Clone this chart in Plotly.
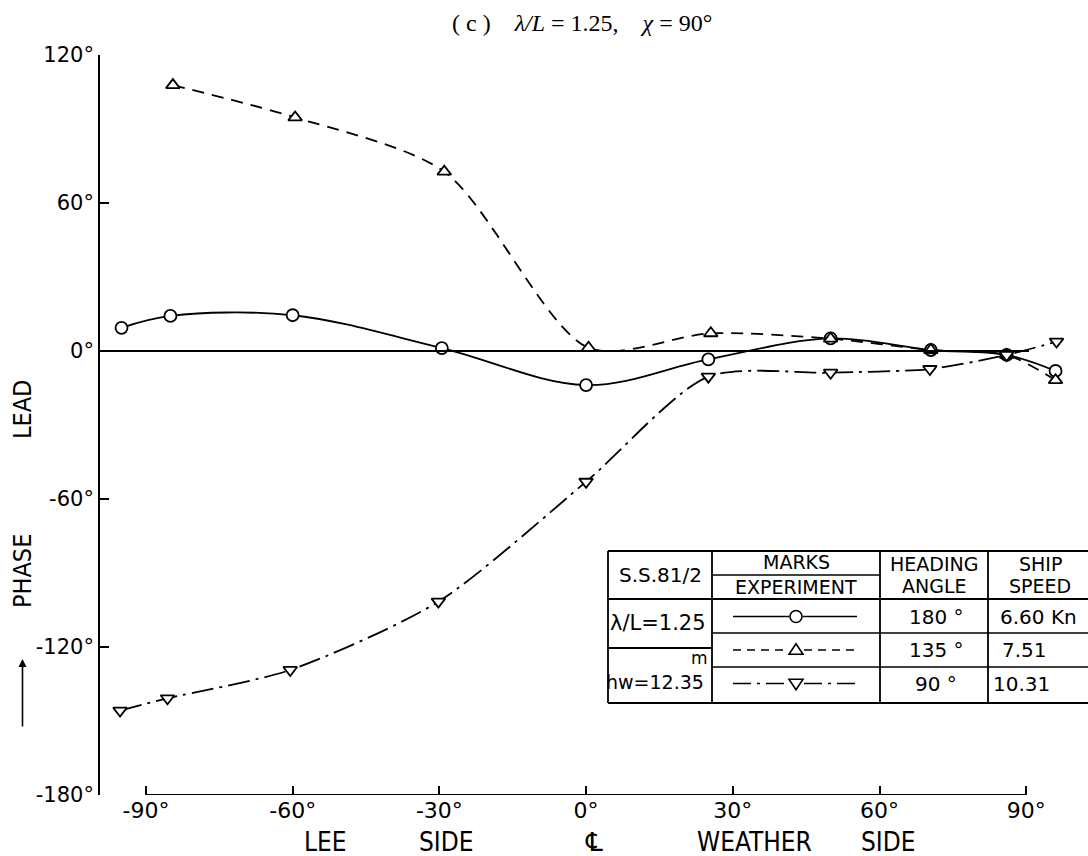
import plotly.graph_objects as go

# ---------------- data ----------------
angle_180 = [-95, -85, -60, -29.5, 0, 25, 50, 70.5, 86, 96]
phase_180 = [9.4, 14.2, 14.5, 1.2, -13.8, -3.4, 5.1, 0.4, -1.6, -8.1]

angle_135 = [-84.5, -59.5, -29, 0.5, 25.5, 50, 70.5, 86, 96]
phase_135 = [107.8, 94.7, 72.7, 1.3, 7.2, 5.0, 0.4, -1.6, -11.8]

angle_90 = [-95.3, -85.6, -60.5, -30.2, 0, 25, 50, 70.3, 86, 96.2]
phase_90 = [-145.8, -140.8, -129.3, -101.6, -53, -10.4, -8.8, -7.3, -1.6, 3.8]

x_ticks = [-90, -60, -30, 0, 30, 60, 90]
x_ticktext = ["-90°", "-60°", "-30°", "0°", "30°", "60°", "90°"]
y_ticks = [-180, -120, -60, 0, 60, 120]
y_ticktext = ["-180°", "-120°", "-60°", "0°", "60°", "120°"]

heading = ["180 °", "135 °", "90 °"]
speed = ["6.60 Kn", "7.51", "10.31"]

# ---------------- layout helpers ----------------
W, H = 1088, 856
PX0, PX1, PY0, PY1 = 100, 1080, 55, 795
XR = [-99.4, 101]
YR = [-180, 120]
FONT = "DejaVu Sans, sans-serif"
FONT_C = "DejaVu Sans Condensed, DejaVu Sans, sans-serif"


def px(x):
    return (x - PX0) / (PX1 - PX0)


def py(y):
    return (PY1 - y) / (PY1 - PY0)


fig = go.Figure()

mk = dict(color="white", size=12, line=dict(color="black", width=1.8))
fig.add_trace(go.Scatter(x=angle_180, y=phase_180, mode="lines+markers",
                         line=dict(color="black", width=1.8, shape="spline", smoothing=1.0),
                         marker=dict(symbol="circle", **mk), cliponaxis=False))
fig.add_trace(go.Scatter(x=angle_135, y=phase_135, mode="lines+markers",
                         line=dict(color="black", width=1.8, shape="spline", smoothing=0.8,
                                   dash="12px,8px"),
                         marker=dict(symbol="triangle-up", **mk), cliponaxis=False))
fig.add_trace(go.Scatter(x=angle_90, y=phase_90, mode="lines+markers",
                         line=dict(color="black", width=1.8, shape="spline", smoothing=0.75,
                                   dash="22px,6px,3px,6px"),
                         marker=dict(symbol="triangle-down", **mk), cliponaxis=False))

shapes = []
# x axis line (from -90 to 90)
shapes.append(dict(type="line", xref="x", yref="y", x0=-90, x1=90, y0=-180, y1=-180,
                   line=dict(color="black", width=1.8)))
# zero line
shapes.append(dict(type="line", xref="paper", yref="y", x0=0, x1=px(1029), y0=0, y1=0,
                   line=dict(color="black", width=1.8)))

# ---------------- table ----------------
TL, TR, TT, TB = 608, 1095, 551, 703
C1, C2, C3 = 712, 880, 988
R_HEAD, R1, R2, R_COL1 = 599, 633, 667, 648


def hline(x0, x1, y, w=1.8, dash=None):
    ln = dict(color="black", width=w)
    if dash:
        ln["dash"] = dash
    shapes.append(dict(type="line", xref="paper", yref="paper", x0=px(x0), x1=px(x1),
                       y0=py(y), y1=py(y), line=ln))


def vline(x, y0, y1, w=1.8):
    shapes.append(dict(type="line", xref="paper", yref="paper", x0=px(x), x1=px(x),
                       y0=py(y0), y1=py(y1), line=dict(color="black", width=w)))


hline(TL, TR, TT)
hline(TL, TR, TB)
vline(TL, TT, TB)
for c in (C1, C2, C3):
    vline(c, TT, TB)
hline(TL, TR, R_HEAD)
hline(C1, C2, 575, w=1.4)
hline(C1, TR, R1, w=1.4)
hline(C1, TR, R2, w=1.4)
hline(TL, C1, R_COL1)

rows_y = [616.5, 650, 683.5]
LX0, LX1, MX = 733, 857, 796
hline(LX0, MX - 7, rows_y[0], w=1.6)
hline(MX + 7, LX1, rows_y[0], w=1.6)
hline(LX0, MX - 8, rows_y[1], w=1.6, dash="8px,6px")
hline(MX + 8, LX1, rows_y[1], w=1.6, dash="8px,6px")
hline(LX0, MX - 8, rows_y[2], w=1.6, dash="18px,6px,3px,6px")
hline(MX + 8, LX1, rows_y[2], w=1.6, dash="18px,6px,3px,6px")

# legend key symbols
r = 6
shapes.append(dict(type="circle", xref="paper", yref="paper",
                   x0=px(MX - r), x1=px(MX + r), y0=py(rows_y[0] + r), y1=py(rows_y[0] - r),
                   line=dict(color="black", width=1.6), fillcolor="white"))


def tri(cx, cy, up=True, s=7):
    if up:
        pts = [(cx - s, cy + 0.6 * s), (cx + s, cy + 0.6 * s), (cx, cy - 0.9 * s)]
    else:
        pts = [(cx - s, cy - 0.6 * s), (cx + s, cy - 0.6 * s), (cx, cy + 0.9 * s)]
    p = "M " + " L ".join(f"{px(a):.5f},{py(b):.5f}" for a, b in pts) + " Z"
    shapes.append(dict(type="path", xref="paper", yref="paper", path=p,
                       line=dict(color="black", width=1.6), fillcolor="white"))


tri(MX, rows_y[1], up=True)
tri(MX, rows_y[2], up=False)

ann = []


def text(x, y, s, size=20, xanchor="center", family=FONT, angle=0):
    ann.append(dict(x=px(x), y=py(y), xref="paper", yref="paper", text=s, showarrow=False,
                    xanchor=xanchor, yanchor="middle", textangle=angle,
                    font=dict(family=family, size=size, color="black")))


text(660, 575, "S.S.81/2", 20)
text(658, 623, "λ/L=1.25", 21)
text(655, 682, "hw=12.35", 19)
text(699, 658, "m", 17)
text(796, 562, "MARKS", 19)
text(796, 587, "EXPERIMENT", 19)
text(934, 564, "HEADING", 19)
text(934, 586, "ANGLE", 19)
text(1040, 564, "SHIP", 19)
text(1040, 586, "SPEED", 19)
for ry, hd in zip(rows_y, heading):
    text(936, ry, hd, 20)
for ry, sp, x0 in zip(rows_y, speed, [998, 1000, 991]):
    text(x0, ry, sp, 20, xanchor="left")

# bottom side labels
text(325, 842, "LEE", 26, family=FONT_C)
text(446, 842, "SIDE", 26, family=FONT_C)
text(594, 842, "℄", 26, family=FONT)
text(754, 842, "WEATHER", 26, family=FONT_C)
text(888, 842, "SIDE", 26, family=FONT_C)

# y axis label
text(22, 571, "PHASE", 25, angle=-90, family=FONT_C)
text(22, 410, "LEAD", 25, angle=-90, family=FONT_C)
ann.append(dict(x=px(22.5), y=py(659), xref="paper", yref="paper", ax=0, ay=69,
                axref="pixel", ayref="pixel", text="", showarrow=True,
                arrowhead=2, arrowsize=1, arrowwidth=1.6, arrowcolor="black"))

# title
ann.append(dict(x=px(582), y=py(23), xref="paper", yref="paper", showarrow=False,
                text="(&nbsp;c&nbsp;)&nbsp;&nbsp;&nbsp;&nbsp;<i>λ/L</i>&nbsp;=&nbsp;1.25,&nbsp;&nbsp;&nbsp;&nbsp;<i>χ</i>&nbsp;=&nbsp;90°",
                xanchor="center", yanchor="middle",
                font=dict(family="Liberation Serif, DejaVu Serif, serif", size=24, color="black")))

fig.update_layout(
    width=W, height=H,
    margin=dict(l=PX0, r=W - PX1, t=PY0, b=H - PY1, pad=0),
    paper_bgcolor="white", plot_bgcolor="white",
    showlegend=False,
    shapes=shapes, annotations=ann,
    font=dict(family=FONT, size=20, color="black"),
    xaxis=dict(range=XR, showgrid=False, zeroline=False, showline=False,
               tickvals=x_ticks, ticktext=x_ticktext, ticks="inside", ticklen=9,
               tickwidth=1.6, tickcolor="black", tickfont=dict(family=FONT, size=22)),
    yaxis=dict(range=YR, showgrid=False, zeroline=False, showline=True, linecolor="black",
               linewidth=1.8, tickvals=y_ticks, ticktext=y_ticktext, ticks="inside",
               ticklen=9, tickwidth=1.6, tickcolor="black", tickfont=dict(family=FONT, size=21)),
)

fig.write_html("out.html", config={"displayModeBar": False},
               post_script="document.body.style.margin='0px';document.body.style.overflow='hidden';")
